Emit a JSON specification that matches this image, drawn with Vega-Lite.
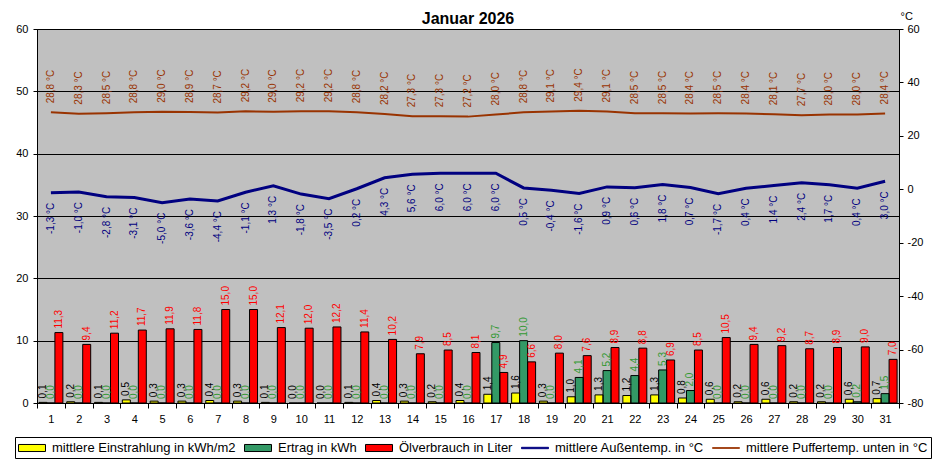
{
  "$schema": "https://vega.github.io/schema/vega-lite/v6.json",
  "autosize": "none",
  "padding": {"left": 37, "top": 29, "right": 37, "bottom": 60},
  "width": 862,
  "height": 374,
  "background": "white",
  "title": {"text": "Januar 2026", "fontSize": 16, "fontWeight": "bold", "anchor": "middle", "offset": 4, "dy": 21, "color": "black"},
  "data": {
    "values": [
      {"day": 1, "einstr": 0.1, "ertrag": 0.0, "oel": 11.3, "aussen": -1.3, "puffer": 28.8},
      {"day": 2, "einstr": 0.2, "ertrag": 0.0, "oel": 9.4, "aussen": -1.0, "puffer": 28.3},
      {"day": 3, "einstr": 0.1, "ertrag": 0.0, "oel": 11.2, "aussen": -2.8, "puffer": 28.5},
      {"day": 4, "einstr": 0.5, "ertrag": 0.0, "oel": 11.7, "aussen": -3.1, "puffer": 28.8},
      {"day": 5, "einstr": 0.3, "ertrag": 0.0, "oel": 11.9, "aussen": -5.0, "puffer": 29.0},
      {"day": 6, "einstr": 0.3, "ertrag": 0.0, "oel": 11.8, "aussen": -3.6, "puffer": 28.9},
      {"day": 7, "einstr": 0.4, "ertrag": 0.0, "oel": 15.0, "aussen": -4.4, "puffer": 28.7},
      {"day": 8, "einstr": 0.3, "ertrag": 0.0, "oel": 15.0, "aussen": -1.1, "puffer": 29.2},
      {"day": 9, "einstr": 0.1, "ertrag": 0.0, "oel": 12.1, "aussen": 1.3, "puffer": 29.0},
      {"day": 10, "einstr": 0.0, "ertrag": 0.0, "oel": 12.0, "aussen": -1.8, "puffer": 29.2},
      {"day": 11, "einstr": 0.0, "ertrag": 0.0, "oel": 12.2, "aussen": -3.5, "puffer": 29.2},
      {"day": 12, "einstr": 0.1, "ertrag": 0.0, "oel": 11.4, "aussen": 0.2, "puffer": 28.8},
      {"day": 13, "einstr": 0.4, "ertrag": 0.0, "oel": 10.2, "aussen": 4.3, "puffer": 28.2},
      {"day": 14, "einstr": 0.3, "ertrag": 0.0, "oel": 7.9, "aussen": 5.6, "puffer": 27.3},
      {"day": 15, "einstr": 0.2, "ertrag": 0.0, "oel": 8.5, "aussen": 6.0, "puffer": 27.3},
      {"day": 16, "einstr": 0.4, "ertrag": 0.0, "oel": 8.1, "aussen": 6.0, "puffer": 27.2},
      {"day": 17, "einstr": 1.4, "ertrag": 9.7, "oel": 4.9, "aussen": 6.0, "puffer": 28.0},
      {"day": 18, "einstr": 1.6, "ertrag": 10.0, "oel": 6.6, "aussen": 0.5, "puffer": 28.8},
      {"day": 19, "einstr": 0.3, "ertrag": 0.0, "oel": 8.0, "aussen": -0.4, "puffer": 29.1},
      {"day": 20, "einstr": 1.0, "ertrag": 4.1, "oel": 7.6, "aussen": -1.6, "puffer": 29.4},
      {"day": 21, "einstr": 1.3, "ertrag": 5.2, "oel": 8.9, "aussen": 0.9, "puffer": 29.1},
      {"day": 22, "einstr": 1.2, "ertrag": 4.4, "oel": 8.8, "aussen": 0.6, "puffer": 28.5},
      {"day": 23, "einstr": 1.3, "ertrag": 5.3, "oel": 6.9, "aussen": 1.8, "puffer": 28.5},
      {"day": 24, "einstr": 0.8, "ertrag": 2.0, "oel": 8.5, "aussen": 0.7, "puffer": 28.4},
      {"day": 25, "einstr": 0.6, "ertrag": 0.0, "oel": 10.5, "aussen": -1.7, "puffer": 28.5},
      {"day": 26, "einstr": 0.2, "ertrag": 0.0, "oel": 9.4, "aussen": 0.4, "puffer": 28.4},
      {"day": 27, "einstr": 0.6, "ertrag": 0.0, "oel": 9.2, "aussen": 1.4, "puffer": 28.1},
      {"day": 28, "einstr": 0.2, "ertrag": 0.0, "oel": 8.7, "aussen": 2.4, "puffer": 27.7},
      {"day": 29, "einstr": 0.2, "ertrag": 0.0, "oel": 8.9, "aussen": 1.7, "puffer": 28.0},
      {"day": 30, "einstr": 0.6, "ertrag": 0.2, "oel": 9.0, "aussen": 0.4, "puffer": 28.0},
      {"day": 31, "einstr": 0.7, "ertrag": 1.5, "oel": 7.0, "aussen": 3.0, "puffer": 28.4}
    ]
  },
  "encoding": {
    "x": {
      "field": "day",
      "type": "ordinal",
      "scale": {"paddingInner": 0, "paddingOuter": 0},
      "axis": {"title": null, "labelAngle": 0, "tickBand": "extent", "tickSize": 5, "labelPadding": 5, "labelFontSize": 11, "grid": false}
    }
  },
  "layer": [
    {
      "transform": [{"fold": ["einstr", "ertrag", "oel"], "as": ["serie", "wert"]}],
      "encoding": {
        "xOffset": {"field": "serie", "type": "nominal", "scale": {"domain": ["einstr", "ertrag", "oel"], "paddingInner": 0, "paddingOuter": 0.24}},
        "y": {
          "field": "wert",
          "type": "quantitative",
          "scale": {"domain": [0, 60], "nice": false},
          "axis": {"title": null, "values": [0, 10, 20, 30, 40, 50, 60], "grid": true, "gridColor": "black", "gridOpacity": 1, "tickSize": 4, "labelPadding": 5, "labelFontSize": 11}
        }
      },
      "layer": [
        {
          "mark": {"type": "bar"},
          "encoding": {
            "color": {
              "field": "serie",
              "type": "nominal",
              "scale": {"domain": ["einstr", "ertrag", "oel", "aussen", "puffer"], "range": ["#FFFF00", "#339966", "#FF0000", "#000080", "#993300"]},
              "legend": {
                "orient": "none",
                "legendX": -22,
                "legendY": 408,
                "direction": "horizontal",
                "columns": 5,
                "title": null,
                "labelExpr": "datum.label == 'einstr' ? 'mittlere Einstrahlung in kWh/m2' : datum.label == 'ertrag' ? 'Ertrag in kWh' : datum.label == 'oel' ? 'Ölverbrauch in Liter' : datum.label == 'aussen' ? 'mittlere Außentemp. in °C' : 'mittlere Puffertemp. unten in °C'",
                "labelFontSize": 13,
                "labelColor": "black",
                "labelLimit": 400,
                "symbolSize": 225,
                "symbolOffset": 6,
                "labelOffset": 12,
                "columnPadding": 6,
                "padding": 3,
                "strokeColor": "black",
                "fillColor": "white",
                "symbolOpacity": 1,
                "symbolStrokeWidth": 1,
                "symbolType": {"expr": "datum.value == 'aussen' ? 'M-1.8,-0.09H1.8V0.09H-1.8Z' : datum.value == 'puffer' ? 'M-1.8,-0.04H1.8V0.04H-1.8Z' : 'M-1.8,-0.47H1.8V0.47H-1.8Z'"},
                "symbolStrokeColor": {"expr": "datum.value == 'aussen' || datum.value == 'puffer' ? scale('color', datum.value) : 'black'"}
              }
            }
          }
        },
        {
          "mark": {"type": "bar", "filled": false, "color": "black", "strokeWidth": 1}
        },
        {
          "mark": {"type": "text", "angle": 270, "align": "left", "baseline": "middle", "dx": 4, "fontSize": 10},
          "encoding": {
            "text": {"field": "wert", "type": "quantitative", "format": ".1f"},
            "fill": {"field": "serie", "type": "nominal", "scale": {"domain": ["einstr", "ertrag", "oel"], "range": ["#000000", "#339933", "#FF0000"]}, "legend": null}
          }
        }
      ]
    },
    {
      "layer": [
        {
          "mark": {"type": "line", "strokeWidth": 2, "color": "#993300"},
          "encoding": {
            "y": {"field": "puffer", "type": "quantitative", "scale": {"domain": [-80, 60], "nice": false}, "axis": {"orient": "right", "title": "°C", "titleAngle": 0, "titleX": 1, "titleY": -10, "titleAlign": "left", "titleBaseline": "alphabetic", "titleFontWeight": "normal", "titleFontSize": 11, "values": [-80, -60, -40, -20, 0, 20, 40, 60], "grid": false, "tickSize": 4, "labelPadding": 4, "labelFontSize": 11}}
          }
        },
        {
          "mark": {"type": "text", "angle": 270, "align": "left", "baseline": "middle", "dx": 9, "fontSize": 10, "color": "#993300"},
          "encoding": {
            "y": {"field": "puffer", "type": "quantitative"},
            "text": {"field": "puffer", "type": "quantitative", "format": "$.1f"}
          }
        },
        {
          "mark": {"type": "line", "strokeWidth": 3, "color": "#000080"},
          "encoding": {
            "y": {"field": "aussen", "type": "quantitative"}
          }
        },
        {
          "mark": {"type": "text", "angle": 270, "align": "right", "baseline": "middle", "dx": -10, "fontSize": 10, "color": "#000080"},
          "encoding": {
            "y": {"field": "aussen", "type": "quantitative"},
            "text": {"field": "aussen", "type": "quantitative", "format": "$.1f"}
          }
        }
      ]
    }
  ],
  "resolve": {"scale": {"y": "independent"}},
  "config": {
    "font": "Liberation Sans",
    "view": {"fill": "#C0C0C0", "stroke": "black"},
    "axis": {"domainColor": "black", "tickColor": "black", "labelColor": "black", "titleColor": "black"},
    "locale": {"number": {"decimal": ",", "thousands": ".", "grouping": [3], "currency": ["", " °C"], "minus": "-"}}
  }
}
